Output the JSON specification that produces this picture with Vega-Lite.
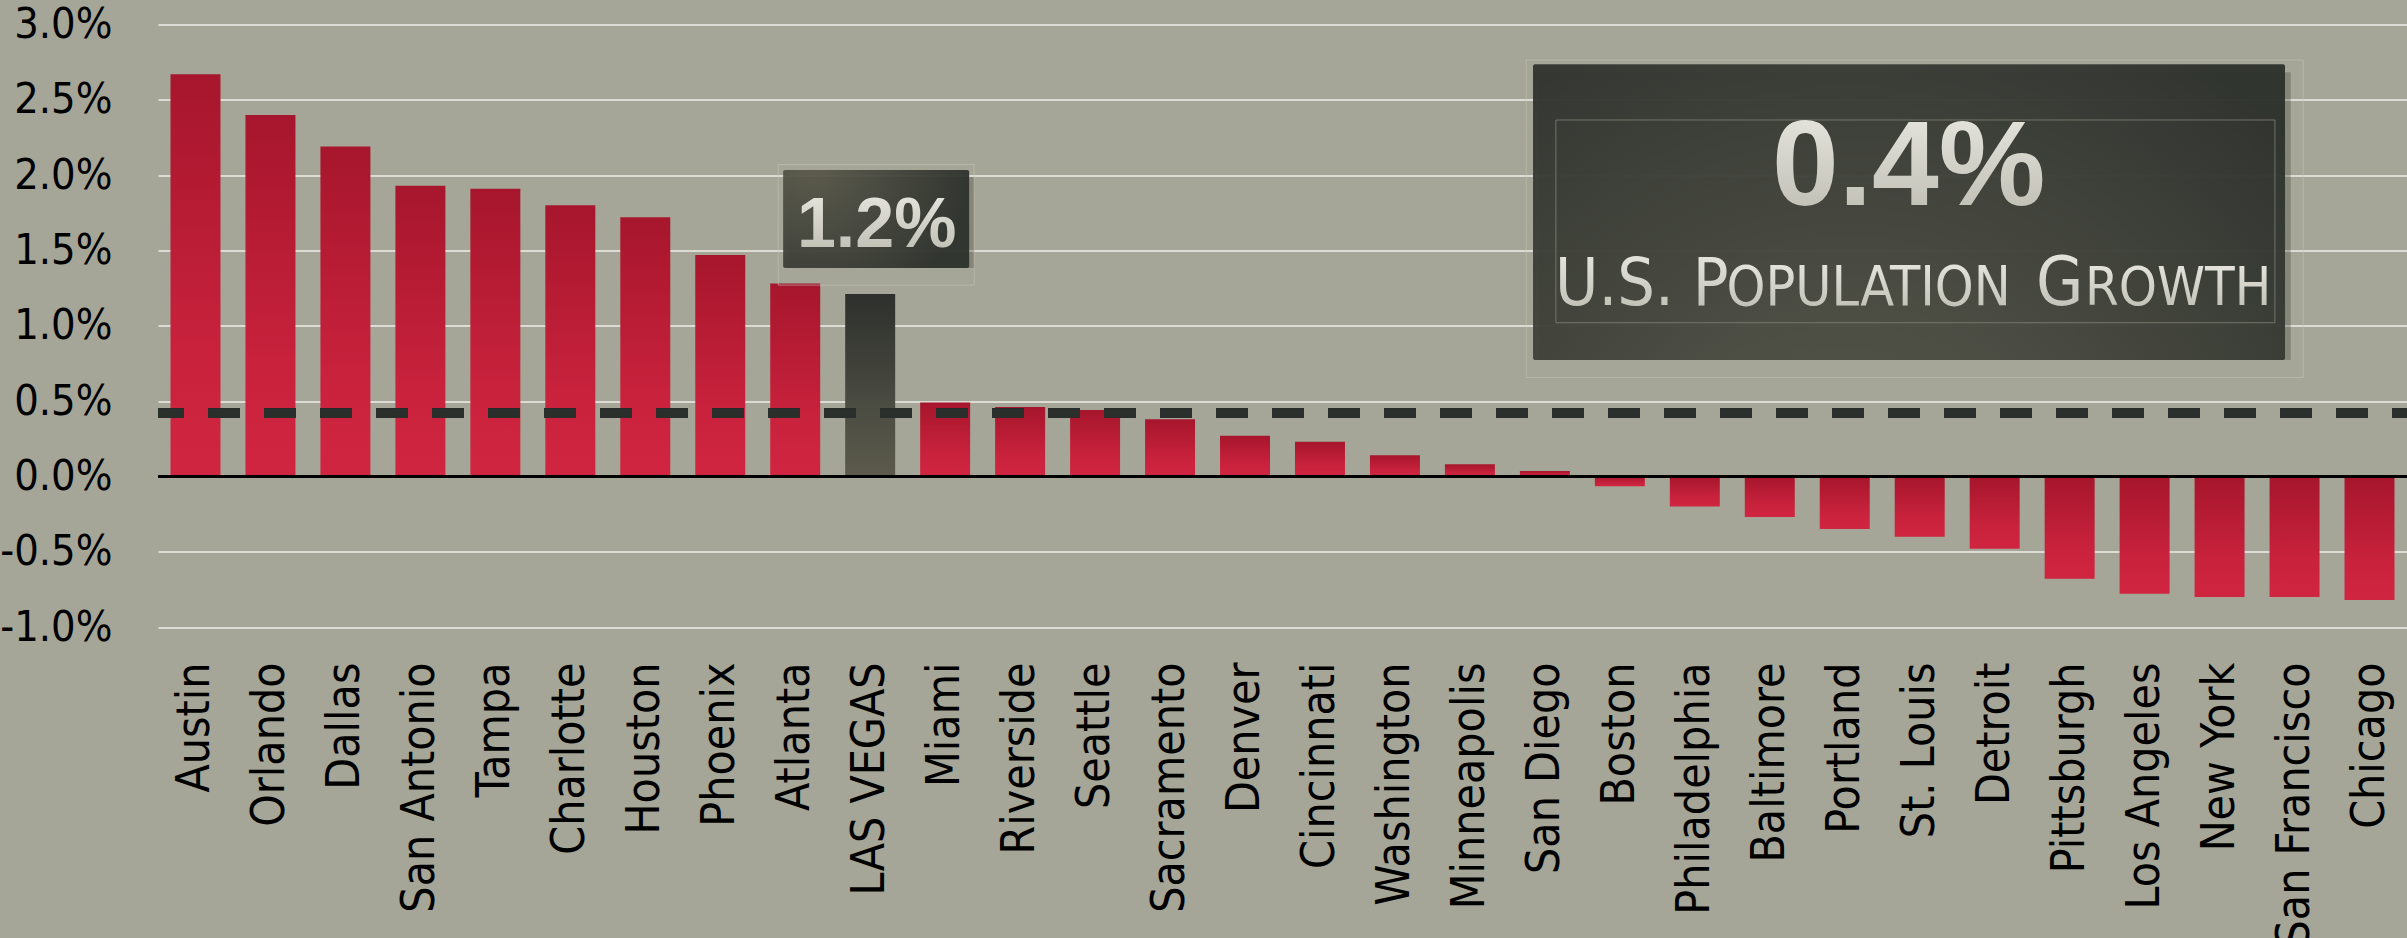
{
  "$schema": "https://vega.github.io/schema/vega-lite/v6.json",
  "width": 2249,
  "height": 602.5,
  "autosize": {"type": "none"},
  "padding": {"left": 158, "top": 24.5, "right": 0, "bottom": 311},
  "background": "#a5a697",
  "config": {"view": {"stroke": null}},
  "datasets": {
    "cities": [
      {"city": "Austin", "growth": 2.67},
      {"city": "Orlando", "growth": 2.40},
      {"city": "Dallas", "growth": 2.19},
      {"city": "San Antonio", "growth": 1.93},
      {"city": "Tampa", "growth": 1.91},
      {"city": "Charlotte", "growth": 1.80},
      {"city": "Houston", "growth": 1.72},
      {"city": "Phoenix", "growth": 1.47},
      {"city": "Atlanta", "growth": 1.28},
      {"city": "LAS VEGAS", "growth": 1.21},
      {"city": "Miami", "growth": 0.49},
      {"city": "Riverside", "growth": 0.46},
      {"city": "Seattle", "growth": 0.44},
      {"city": "Sacramento", "growth": 0.38},
      {"city": "Denver", "growth": 0.27},
      {"city": "Cincinnati", "growth": 0.23},
      {"city": "Washington", "growth": 0.14},
      {"city": "Minneapolis", "growth": 0.08},
      {"city": "San Diego", "growth": 0.035},
      {"city": "Boston", "growth": -0.065},
      {"city": "Philadelphia", "growth": -0.20},
      {"city": "Baltimore", "growth": -0.27},
      {"city": "Portland", "growth": -0.35},
      {"city": "St. Louis", "growth": -0.40},
      {"city": "Detroit", "growth": -0.48},
      {"city": "Pittsburgh", "growth": -0.68},
      {"city": "Los Angeles", "growth": -0.78},
      {"city": "New York", "growth": -0.80},
      {"city": "San Francisco", "growth": -0.80},
      {"city": "Chicago", "growth": -0.82}
    ]
  },
  "data": {"name": "cities"},
  "layer": [
    {
      "transform": [{"filter": "datum.city !== 'LAS VEGAS'"}],
      "mark": {
        "type": "bar",
        "color": {
          "gradient": "linear", "x1": 0, "y1": 0, "x2": 0, "y2": 1,
          "stops": [
            {"offset": 0, "color": "#a6162c"},
            {"offset": 0.7, "color": "#c9223d"},
            {"offset": 1, "color": "#d02541"}
          ]
        }
      },
      "encoding": {
        "x": {
          "field": "city", "type": "nominal",
          "scale": {
            "domain": ["Austin","Orlando","Dallas","San Antonio","Tampa","Charlotte","Houston","Phoenix","Atlanta","LAS VEGAS","Miami","Riverside","Seattle","Sacramento","Denver","Cincinnati","Washington","Minneapolis","San Diego","Boston","Philadelphia","Baltimore","Portland","St. Louis","Detroit","Pittsburgh","Los Angeles","New York","San Francisco","Chicago"],
            "paddingInner": 0.3333, "paddingOuter": 0.1667
          },
          "axis": {
            "title": null, "orient": "bottom", "labelAngle": -90, "labelPadding": 35,
            "ticks": false, "domain": false, "labelFont": "DejaVu Sans Condensed, Liberation Sans, sans-serif",
            "labelFontSize": 46, "labelColor": "#000000", "labelLimit": 500, "labelOverlap": false
          }
        },
        "y": {
          "field": "growth", "type": "quantitative",
          "scale": {"domain": [-1, 3], "nice": false, "zero": false},
          "axis": {
            "title": null, "values": [-1, -0.5, 0, 0.5, 1, 1.5, 2, 2.5, 3],
            "labelExpr": "replace(format(datum.value, '.1f'), '\u2212', '-') + '%'",
            "ticks": false, "domain": false, "labelPadding": 46,
            "labelFont": "DejaVu Sans Condensed, Liberation Sans, sans-serif", "labelFontSize": 43, "labelColor": "#000000",
            "grid": true, "gridColor": "#dcdcd5", "gridWidth": 2.2, "gridOpacity": 1
          }
        }
      }
    },
    {
      "transform": [{"filter": "datum.city === 'LAS VEGAS'"}],
      "mark": {
        "type": "bar",
        "color": {
          "gradient": "linear", "x1": 0, "y1": 0, "x2": 0, "y2": 1,
          "stops": [
            {"offset": 0, "color": "#2d302c"},
            {"offset": 0.6, "color": "#4a4b41"},
            {"offset": 1, "color": "#5b5a4c"}
          ]
        }
      },
      "encoding": {
        "x": {"field": "city", "type": "nominal"},
        "y": {"field": "growth", "type": "quantitative"}
      }
    },
    {
      "mark": {"type": "rule", "color": "#000000", "strokeWidth": 2.5},
      "encoding": {"y": {"datum": 0}}
    },
    {
      "mark": {"type": "rule", "color": "#2a2f2c", "strokeWidth": 8.7, "strokeDash": [32, 24], "strokeDashOffset": 17},
      "encoding": {"y": {"datum": 0.42}}
    },
    {
      "data": {"values": [{}]},
      "mark": {"type": "bar", "width": 186, "xOffset": 11, "yOffset": 7, "color": "#3b3c33", "opacity": 0.3},
      "encoding": {"x": {"datum": "LAS VEGAS"}, "y": {"datum": 2.034}, "y2": {"datum": 1.384}}
    },
    {
      "data": {"values": [{}]},
      "mark": {"type": "bar", "width": 196, "xOffset": 6, "filled": false, "stroke": "#c4c5b8", "strokeWidth": 1, "strokeOpacity": 0.6},
      "encoding": {"x": {"datum": "LAS VEGAS"}, "y": {"datum": 2.07}, "y2": {"datum": 1.27}}
    },
    {
      "data": {"values": [{}]},
      "mark": {
        "type": "bar", "width": 186, "xOffset": 6, "cornerRadius": 2, "opacity": 0.95,
        "color": {
          "gradient": "radial", "x1": 0.15, "y1": 0.2, "r1": 0, "x2": 0.15, "y2": 0.2, "r2": 0.85,
          "stops": [{"offset": 0, "color": "#5a594b"}, {"offset": 1, "color": "#2e322d"}]
        }
      },
      "encoding": {"x": {"datum": "LAS VEGAS"}, "y": {"datum": 2.034}, "y2": {"datum": 1.384}}
    },
    {
      "data": {"values": [{}]},
      "mark": {"type": "bar", "width": 752, "xOffset": -5, "yOffset": 8, "color": "#3b3c33", "opacity": 0.3},
      "encoding": {"x": {"datum": "St. Louis"}, "y": {"datum": 2.736}, "y2": {"datum": 0.773}}
    },
    {
      "data": {"values": [{}]},
      "mark": {"type": "bar", "width": 777, "xOffset": -5, "filled": false, "stroke": "#c4c5b8", "strokeWidth": 1, "strokeOpacity": 0.6},
      "encoding": {"x": {"datum": "St. Louis"}, "y": {"datum": 2.764}, "y2": {"datum": 0.656}}
    },
    {
      "data": {"values": [{}]},
      "mark": {
        "type": "bar", "width": 752, "xOffset": -10.7, "cornerRadius": 2, "opacity": 0.95,
        "color": {
          "gradient": "radial", "x1": 0.42, "y1": 0.95, "r1": 0, "x2": 0.42, "y2": 0.95, "r2": 0.8,
          "stops": [{"offset": 0, "color": "#5b5a4b"}, {"offset": 0.55, "color": "#42443c"}, {"offset": 1, "color": "#2d312c"}]
        }
      },
      "encoding": {"x": {"datum": "St. Louis"}, "y": {"datum": 2.736}, "y2": {"datum": 0.773}}
    },
    {
      "data": {"values": [{}]},
      "mark": {"type": "bar", "width": 719, "xOffset": -4.3, "filled": false, "stroke": "#8a8b7e", "strokeWidth": 1, "strokeOpacity": 0.7},
      "encoding": {"x": {"datum": "St. Louis"}, "y": {"datum": 2.366}, "y2": {"datum": 1.02}}
    },
    {
      "data": {"values": [{}]},
      "mark": {
        "type": "text", "text": "1.2%", "font": "Liberation Sans", "fontWeight": "bold", "fontSize": 70,
        "align": "center", "baseline": "alphabetic", "dx": 6.5,
        "fill": {"gradient": "linear", "x1": 0, "y1": 0, "x2": 0, "y2": 1, "stops": [{"offset": 0, "color": "#ebebe5"}, {"offset": 1, "color": "#b9b9ad"}]}
      },
      "encoding": {"x": {"datum": "LAS VEGAS"}, "y": {"datum": 1.5246}}
    },
    {
      "data": {"values": [{}]},
      "mark": {
        "type": "text", "text": "0.4%", "font": "Liberation Sans", "fontWeight": "bold", "fontSize": 120,
        "align": "center", "baseline": "alphabetic", "dx": -11,
        "fill": {"gradient": "linear", "x1": 0, "y1": 0, "x2": 0, "y2": 1, "stops": [{"offset": 0, "color": "#ebebe5"}, {"offset": 1, "color": "#b9b9ad"}]}
      },
      "encoding": {"x": {"datum": "St. Louis"}, "y": {"datum": 1.8015}}
    },
    {
      "data": {"values": [{"t": "U.S. P", "s": 66, "d": -339.7}, {"t": "OPULATION", "s": 55, "d": -168.2}, {"t": "G", "s": 68, "d": 141.3}, {"t": "ROWTH", "s": 54, "d": 190.3}]},
      "mark": {
        "type": "text", "font": "DejaVu Sans Condensed, Liberation Sans, sans-serif", "align": "left", "baseline": "alphabetic",
        "fill": {"gradient": "linear", "x1": 0, "y1": 0, "x2": 0, "y2": 1, "stops": [{"offset": 0, "color": "#ebebe5"}, {"offset": 1, "color": "#b9b9ad"}]}
      },
      "encoding": {
        "x": {"datum": "St. Louis"},
        "y": {"datum": 1.1375},
        "text": {"field": "t"},
        "size": {"field": "s", "type": "quantitative", "scale": null},
        "xOffset": {"field": "d", "type": "quantitative", "scale": null}
      }
    }
  ]
}
